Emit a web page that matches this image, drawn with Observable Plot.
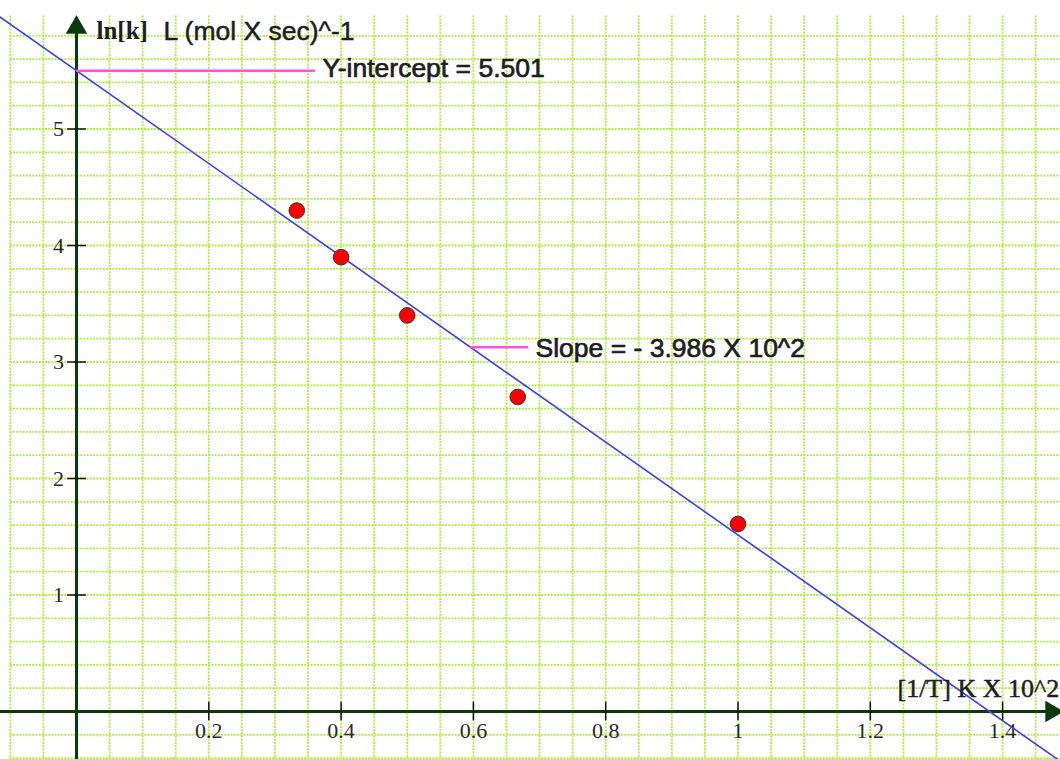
<!DOCTYPE html>
<html><head><meta charset="utf-8">
<script src="https://cdn.jsdelivr.net/npm/d3@7"></script>
<script src="https://cdn.jsdelivr.net/npm/@observablehq/plot@0.6"></script>
<style>html,body{margin:0;padding:0;background:#fff} svg{display:block}</style>
</head><body><div id="chart"></div>
<script>
// Data
const invT = [0.333, 0.4, 0.5, 0.667, 1.0];
const lnK = [4.3, 3.9, 3.4, 2.7, 1.61];
const intercept = 5.501;
const slope = -3.986;
const fitRange = [-0.12, 1.5];
const xTicks = [0.2, 0.4, 0.6, 0.8, 1, 1.2, 1.4];
const xTickLabels = ["0.2", "0.4", "0.6", "0.8", "1", "1.2", "1.4"];
const yTicks = [1, 2, 3, 4, 5];
const yTickLabels = ["1", "2", "3", "4", "5"];
const yTitle = "ln[k]";
const yUnit = "L (mol X sec)^-1";
const xTitle = "[1/T] K X 10^2";
const interceptLabel = "Y-intercept = 5.501";
const slopeLabel = "Slope = - 3.986 X 10^2";

const points = invT.map((x, i) => ({x, y: lnK[i]}));
const fit = fitRange.map(x => ({x, y: intercept + slope * x}));
const xGrid = d3.range(-2, 30).map(i => +(i * 0.05).toFixed(2));
const yGrid = d3.range(-2, 30).map(i => +(i * 0.2).toFixed(1));

const serif = "'Liberation Serif', 'DejaVu Serif', serif";
const sans = "'Liberation Sans', Arial, sans-serif";
const gridColor = "#acee38";
const axisColor = "#0a3a0a";
const ink = "#1e1e1e";

const chart = Plot.plot({
  width: 1060,
  height: 759,
  margin: 0,
  x: {domain: [-76 / 661.5, (1060 - 76) / 661.5], axis: null},
  y: {domain: [(711 - 759) / 116.5, 711 / 116.5], axis: null},
  style: {background: "#fff"},
  marks: [
    // grid
    Plot.ruleX(xGrid, {x: d => d, y1: -0.42, y2: 5.97, stroke: gridColor, strokeWidth: 1.8, strokeDasharray: "2,1.2"}),
    Plot.ruleY(yGrid, {y: d => d, x1: -0.1, x2: 1.49, stroke: gridColor, strokeWidth: 1.8, strokeDasharray: "2,1.2"}),
    // axes
    Plot.ruleY([0], {x1: -0.12, x2: 1.475, stroke: axisColor, strokeWidth: 3}),
    Plot.ruleX([0], {y1: -0.42, y2: 5.88, stroke: axisColor, strokeWidth: 3}),
    Plot.dot([{x: 0, y: 5.87}], {x: "x", y: "y", symbol: "triangle", r: 8, fill: axisColor, stroke: "none"}),
    Plot.dot([{x: 1.474, y: 0}], {x: "x", y: "y", symbol: "triangle", r: 8, rotate: 90, fill: axisColor, stroke: "none"}),
    // ticks
    Plot.ruleX(xTicks, {x: d => d, y1: -0.08, y2: 0.08, stroke: "#111", strokeWidth: 1.5}),
    Plot.ruleY(yTicks, {y: d => d, x1: -0.0135, x2: 0.015, stroke: "#111", strokeWidth: 1.5}),
    Plot.text(xTicks, {x: d => d, y: -0.167, text: (d, i) => xTickLabels[i], fontFamily: serif, fontSize: 22, fill: "#2a2a2a"}),
    Plot.text(yTicks, {x: -0.019, y: d => d, text: (d, i) => yTickLabels[i], textAnchor: "end", fontFamily: serif, fontSize: 22, fill: "#2a2a2a"}),
    // fit line
    Plot.line(fit, {x: "x", y: "y", stroke: "#3c3cff", strokeWidth: 1.6, clip: true}),
    // annotations
    Plot.ruleY([intercept], {x1: 0, x2: 0.361, stroke: "#ff4ee0", strokeWidth: 2.5}),
    Plot.ruleY([3.127], {x1: 0.5956, x2: 0.6838, stroke: "#ff4ee0", strokeWidth: 2.5}),
    Plot.text([interceptLabel], {x: 0.3719, y: 5.52, text: d => d, textAnchor: "start", fontFamily: sans, fontSize: 26.5, fill: ink, stroke: ink, strokeWidth: 0.7}),
    Plot.text([slopeLabel], {x: 0.6939, y: 3.115, text: d => d, textAnchor: "start", fontFamily: sans, fontSize: 26.5, fill: ink, stroke: ink, strokeWidth: 0.7}),
    // axis titles
    Plot.text([yTitle], {x: 0.0302, y: 5.84, text: d => d, textAnchor: "start", fontFamily: serif, fontWeight: "bold", fontSize: 25, fill: ink}),
    Plot.text([yUnit], {x: 0.1315, y: 5.84, text: d => d, textAnchor: "start", fontFamily: sans, fontSize: 26.5, fill: ink, stroke: ink, strokeWidth: 0.5}),
    Plot.text([xTitle], {x: 1.2411, y: 0.197, text: d => d, textAnchor: "start", fontFamily: serif, fontSize: 26, fill: ink, stroke: ink, strokeWidth: 0.5}),
    // data points
    Plot.dot(points, {x: "x", y: "y", r: 7.8, fill: "#ff0000", stroke: "#333", strokeWidth: 1})
  ]
});
document.getElementById("chart").appendChild(chart);
</script>
</body></html>
